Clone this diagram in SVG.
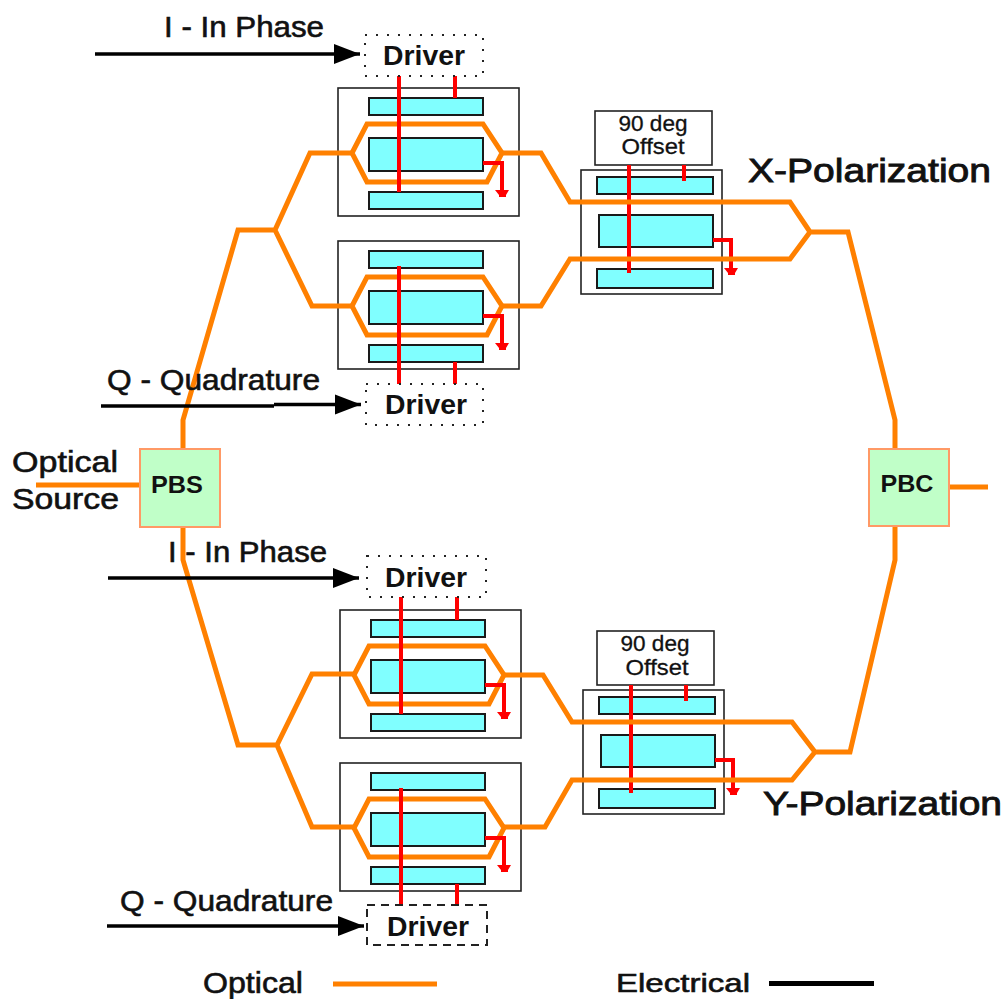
<svg xmlns="http://www.w3.org/2000/svg" xmlns:xlink="http://www.w3.org/1999/xlink" width="1005" height="999" viewBox="0 0 1005 999">
<style>
text{font-family:"Liberation Sans",Arial,sans-serif;fill:#111;text-anchor:middle}
.lbl{font-size:29px;stroke:#111;stroke-width:.6px}
.drv{font-size:28px;font-weight:bold}
.pol{font-size:34px;stroke:#111;stroke-width:.9px}
.off{font-size:22px;stroke:#111;stroke-width:.3px}
.pb{font-size:24px;font-weight:bold}
.frame{fill:none;stroke:#222;stroke-width:1.6}
.bar{fill:#80FFFF;stroke:#1a1a1a;stroke-width:2}
.box{fill:#fff;stroke:#222;stroke-width:1.6}
.opt{fill:none;stroke:#FF8000;stroke-width:5;stroke-linejoin:miter}
.red{fill:none;stroke:#FF0000;stroke-width:4}
.elec{fill:none;stroke:#000;stroke-width:3.5}
.dot{fill:#fff;stroke:#222;stroke-width:2;stroke-dasharray:2 9}
.dash{fill:#fff;stroke:#222;stroke-width:2;stroke-dasharray:8 6}
.pbx{fill:#C0FFC8;stroke:#FF9966;stroke-width:2}
</style>
<defs>
<marker id="arr" markerUnits="userSpaceOnUse" markerWidth="26" markerHeight="22" refX="26" refY="11" orient="auto"><path d="M0 1L26 11L0 21Z" fill="#000"/></marker>
<path id="foot" d="M-7 0H7L4 5V7H-3V5Z" fill="#FF0000"/>
<g id="mzm">
<rect class="frame" x="338" y="88" width="181" height="128"/>
<rect class="bar" x="369" y="98" width="114" height="17"/>
<rect class="bar" x="369" y="138" width="114" height="33"/>
<rect class="bar" x="369" y="192" width="114" height="17"/>
<path class="opt" d="M352 153L367 124H483L502 153L487 182H367Z"/>
<path class="red" d="M483 163H502V192"/>
<use xlink:href="#foot" x="502" y="190"/>
</g>
<g id="offs">
<rect class="frame" x="581" y="170" width="141" height="124"/>
<rect class="bar" x="597" y="177" width="116" height="17"/>
<rect class="bar" x="599" y="215" width="114" height="32"/>
<rect class="bar" x="597" y="269" width="116" height="19"/>
<path class="red" d="M713 240H731V271"/>
<use xlink:href="#foot" x="731" y="268"/>
<rect class="box" x="595" y="111" width="117" height="54"/>
<path class="red" d="M629 165V273M684 165V181"/>
</g>
</defs>

<g id="module-x-i"><use xlink:href="#mzm"/></g>
<g id="module-x-q"><use xlink:href="#mzm" y="153"/></g>
<g id="module-y-i"><use xlink:href="#mzm" x="2" y="522"/></g>
<g id="module-y-q"><use xlink:href="#mzm" x="2" y="675"/></g>
<g id="offset-x"><use xlink:href="#offs"/></g>
<g id="offset-y"><use xlink:href="#offs" x="2" y="520"/></g>

<g id="connectors">
<path class="opt" d="M183 449V420L238 230H275L310 153H352M275 230L312 306H352"/>
<path class="opt" d="M502 153H541L570 202H790L810 232H848L895 420V449M502 306H541L570 259H790L810 232"/>
<path class="opt" d="M183 527V560L238 745H277L312 674H354M277 745L312 827H354"/>
<path class="opt" d="M504 675H543L572 722H792L815 752H850L895 560V527M504 827H545L572 780H792L815 752"/>
<path class="opt" d="M36 485H140M949 487H988"/>
<path class="red" d="M399 75V192M455 75V98M399 266V384M455 362V384M401 597V714M457 597V620M401 788V906M457 884V906"/>
<path class="elec" d="M95 54H360" marker-end="url(#arr)"/>
<path class="elec" d="M101 406H274"/>
<path class="elec" d="M274 404.500H361" marker-end="url(#arr)"/>
<path class="elec" d="M108 578H359" marker-end="url(#arr)"/>
<path class="elec" d="M107 926H364" marker-end="url(#arr)"/>
<path class="opt" d="M333 984H437"/>
<path class="elec" d="M769 983.500H874" style="stroke-width:5"/>
</g>

<g id="driver-1"><rect class="dot" x="365" y="35" width="118" height="41"/><text class="drv" x="424" y="65" textLength="82" lengthAdjust="spacingAndGlyphs">Driver</text></g>
<g id="driver-2"><rect class="dot" x="366" y="384" width="117" height="41"/><text class="drv" x="426" y="414" textLength="82" lengthAdjust="spacingAndGlyphs">Driver</text></g>
<g id="driver-3"><rect class="dot" x="367" y="556" width="119" height="41"/><text class="drv" x="426" y="587" textLength="82" lengthAdjust="spacingAndGlyphs">Driver</text></g>
<g id="driver-4"><rect class="dash" x="367" y="905" width="120" height="40"/><text class="drv" x="428" y="936" textLength="82" lengthAdjust="spacingAndGlyphs">Driver</text></g>
<g id="pbs"><rect class="pbx" x="140" y="449" width="80" height="78"/><text class="pb" x="177" y="493" textLength="52" lengthAdjust="spacingAndGlyphs">PBS</text></g>
<g id="pbc"><rect class="pbx" x="869" y="449" width="80" height="77"/><text class="pb" x="907" y="492" textLength="53" lengthAdjust="spacingAndGlyphs">PBC</text></g>

<g id="labels">
<text class="off" x="653" y="131" textLength="69" lengthAdjust="spacingAndGlyphs">90 deg</text>
<text class="off" x="653" y="154" textLength="63" lengthAdjust="spacingAndGlyphs">Offset</text>
<text class="off" x="655" y="651" textLength="69" lengthAdjust="spacingAndGlyphs">90 deg</text>
<text class="off" x="657" y="675" textLength="63" lengthAdjust="spacingAndGlyphs">Offset</text>
<text class="lbl" x="244" y="37" textLength="160" lengthAdjust="spacingAndGlyphs">I - In Phase</text>
<text class="lbl" x="213.500" y="390" textLength="213" lengthAdjust="spacingAndGlyphs">Q - Quadrature</text>
<text class="lbl" x="247.500" y="562" textLength="159" lengthAdjust="spacingAndGlyphs">I - In Phase</text>
<text class="lbl" x="226.500" y="911" textLength="213" lengthAdjust="spacingAndGlyphs">Q - Quadrature</text>
<text class="lbl" x="65" y="472" textLength="106" lengthAdjust="spacingAndGlyphs">Optical</text>
<text class="lbl" x="65.500" y="509" textLength="107" lengthAdjust="spacingAndGlyphs">Source</text>
<text class="pol" x="869.500" y="182" textLength="243" lengthAdjust="spacingAndGlyphs">X-Polarization</text>
<text class="pol" x="882.500" y="815" textLength="239" lengthAdjust="spacingAndGlyphs">Y-Polarization</text>
<text class="lbl" x="253" y="993" textLength="100" lengthAdjust="spacingAndGlyphs">Optical</text>
<text class="lbl" x="683" y="992" textLength="134" lengthAdjust="spacingAndGlyphs" style="font-size:26px">Electrical</text>
</g>
</svg>
